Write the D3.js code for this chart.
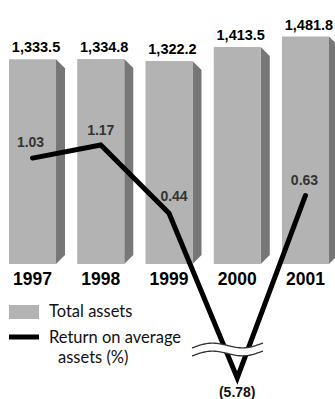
<!DOCTYPE html>
<html>
<head>
<meta charset="utf-8">
<script src="https://cdn.jsdelivr.net/npm/d3@7/dist/d3.min.js"></script>
<style>
  html, body { margin: 0; padding: 0; background: #fff; }
  svg { display: block; }
</style>
</head>
<body>
<svg id="chart" width="335" height="399"></svg>
<script>
// Fiscal years on the category axis
const years = ["1997", "1998", "1999", "2000", "2001"];
// Total assets (bars)
const totalAssets = [1333.5, 1334.8, 1322.2, 1413.5, 1481.8];
const totalAssetLabels = ["1,333.5", "1,334.8", "1,322.2", "1,413.5", "1,481.8"];
// Return on average assets, % (line)
const roaa = [1.03, 1.17, 0.44, -5.78, 0.63];
const roaaLabels = ["1.03", "1.17", "0.44", "(5.78)", "0.63"];
// Legend entries
const legendItems = ["Total assets", "Return on average", "assets (%)"];

const W = 335, H = 399;
const svg = d3.select("#chart");
svg.append("rect").attr("width", W).attr("height", H).attr("fill", "#fff");

const frontColor = "#b3b3b3";
const sideColor = "#777777";
const sideW = 9, sideSlant = 9;

const x = d3.scaleBand()
  .domain(years)
  .range([9, 329])
  .paddingInner(0.311)
  .paddingOuter(0);

const yBar = d3.scaleLinear()
  .domain([0, 1481.8])
  .range([264, 36.5]);

// Broken value axis for the line: the negative year is squeezed below the break
const yLine = d3.scaleLinear()
  .domain([-5.78, 0, 1.17])
  .range([378, 254.4, 145]);

const bw = x.bandwidth();
const bars = years.map((yr, i) => ({ yr, v: totalAssets[i], label: totalAssetLabels[i] }));

const g = svg.append("g");

// Side faces
g.selectAll("path.side").data(bars).join("path")
  .attr("class", "side")
  .attr("fill", sideColor)
  .attr("d", d => {
    const x1 = x(d.yr) + bw, top = yBar(d.v), bot = yBar(0);
    return `M${x1},${top}L${x1 + sideW},${top + sideSlant}L${x1 + sideW},${bot - sideSlant}L${x1},${bot}Z`;
  });

// Front faces
g.selectAll("rect.front").data(bars).join("rect")
  .attr("class", "front")
  .attr("fill", frontColor)
  .attr("x", d => x(d.yr))
  .attr("y", d => yBar(d.v))
  .attr("width", bw)
  .attr("height", d => yBar(0) - yBar(d.v));

// Bar value labels
g.selectAll("text.val").data(bars).join("text")
  .attr("class", "val")
  .attr("x", d => x(d.yr) + bw / 2 + 3.5)
  .attr("y", d => yBar(d.v) - 7)
  .attr("text-anchor", "middle")
  .attr("font-family", "Liberation Sans, Arial, sans-serif")
  .attr("font-weight", "bold")
  .attr("font-size", 14.5)
  .attr("fill", "#000")
  .text(d => d.label);

// Year labels
g.selectAll("text.year").data(bars).join("text")
  .attr("class", "year")
  .attr("x", d => x(d.yr) + bw / 2)
  .attr("y", 285)
  .attr("text-anchor", "middle")
  .attr("font-family", "Liberation Sans, Arial, sans-serif")
  .attr("font-weight", "bold")
  .attr("font-size", 17.5)
  .attr("fill", "#000")
  .text(d => d.yr);

// ROAA line
const pts = years.map((yr, i) => ({ yr, v: roaa[i], label: roaaLabels[i] }));
const line = d3.line()
  .x(d => x(d.yr) + bw / 2)
  .y(d => yLine(d.v));

g.append("path")
  .datum(pts)
  .attr("fill", "none")
  .attr("stroke", "#000")
  .attr("stroke-width", 5)
  .attr("stroke-linecap", "round")
  .attr("stroke-linejoin", "miter")
  .attr("d", line);

// Axis-break marker across the dip
const breakX0 = 192, breakX1 = 263;
const wave = (x0, x1, yc, amp, slope) => d3.range(0, 41).map(k => {
  const t = k / 40;
  const xx = x0 + t * (x1 - x0);
  return [xx, yc - amp * Math.sin(2 * Math.PI * t) - slope * (xx - (x0 + x1) / 2)];
});
const upper = wave(breakX0, breakX1, 345.5, 3.5, 0.07);
const lower = wave(breakX0, breakX1, 353.5, 3.5, 0.07);
const bandPath = d3.line()(upper) + "L" + lower.slice().reverse().map(p => p.join(",")).join("L") + "Z";
g.append("path").attr("d", bandPath).attr("fill", "#fff");
[upper, lower].forEach(w => {
  g.append("path")
    .attr("d", d3.line().curve(d3.curveBasis)(w))
    .attr("fill", "none")
    .attr("stroke", "#333")
    .attr("stroke-width", 1.3);
});

// Line value labels (small nudges keep them clear of the line)
const labelNudge = { "1997": [-2, -11], "1998": [0, -10], "1999": [5, -12], "2000": [0, 19], "2001": [-1, -10] };
g.selectAll("text.roaa").data(pts).join("text")
  .attr("class", "roaa")
  .attr("x", d => x(d.yr) + bw / 2 + labelNudge[d.yr][0])
  .attr("y", d => yLine(d.v) + labelNudge[d.yr][1])
  .attr("text-anchor", "middle")
  .attr("font-family", "Liberation Sans, Arial, sans-serif")
  .attr("font-weight", "bold")
  .attr("font-size", 14)
  .attr("fill", d => d.v < 0 ? "#111" : "#333")
  .text(d => d.label);

// Legend
const leg = svg.append("g");
leg.append("rect").attr("x", 9).attr("y", 305).attr("width", 30).attr("height", 14).attr("fill", frontColor);
leg.append("rect").attr("x", 9).attr("y", 334.5).attr("width", 30).attr("height", 5).attr("fill", "#000");
const legText = [
  { t: legendItems[0], x: 49, y: 317 },
  { t: legendItems[1], x: 49, y: 343 },
  { t: legendItems[2], x: 58, y: 363 }
];
leg.selectAll("text").data(legText).join("text")
  .attr("x", d => d.x)
  .attr("y", d => d.y)
  .attr("font-family", "Lato, Open Sans, sans-serif")
  .attr("font-size", 16.5)
  .attr("fill", "#111")
  .text(d => d.t);
</script>
</body>
</html>
